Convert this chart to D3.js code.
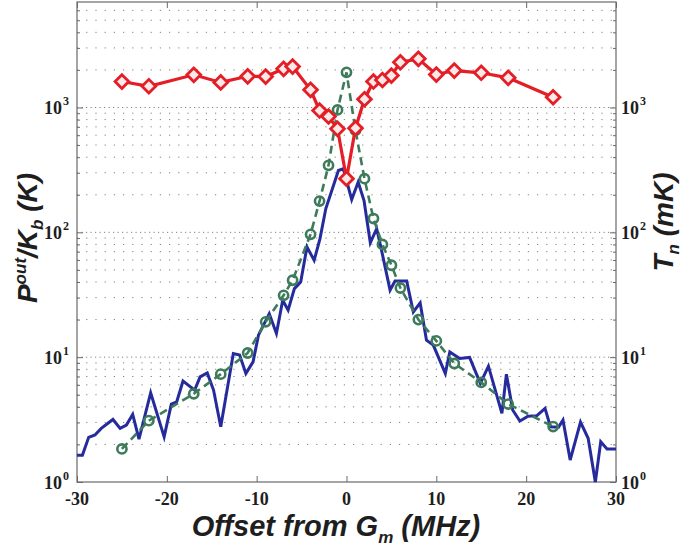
<!DOCTYPE html>
<html>
<head>
<meta charset="utf-8">
<script src="https://cdn.jsdelivr.net/npm/d3@7"></script>
<style>
  body { margin: 0; background: #fff; }
  svg { display: block; }
</style>
</head>
<body>
<div id="chart"></div>
<script>
// --- data ---
// measured spectrum (blue): offset in MHz, power in K
const specOffset = [-30.0, -29.4, -28.7, -28.0, -27.3, -26.0, -25.2, -24.5, -23.8, -23.1,
  -21.8, -20.3, -19.5, -18.9, -18.2, -16.9, -16.3, -15.5, -14.8, -14.0,
  -12.6, -11.9, -11.2, -10.4, -9.8, -8.6, -7.8, -7.1, -6.5, -5.8,
  -5.1, -4.4, -3.6, -2.95, -2.3, -0.9, -0.35, 0.58, 1.3, 1.95,
  2.65, 3.36, 3.9, 4.85, 5.4, 6.7, 7.44, 8.2, 8.9, 9.66,
  11.0, 11.5, 12.6, 13.7, 14.9, 15.8, 17.3, 17.8, 18.5, 19.3,
  20.2, 21.2, 22.1, 22.7, 23.6, 24.1, 24.9, 26.05, 26.9, 27.7,
  28.3, 29.0, 30.0];
const specPower = [1.64, 1.64, 2.28, 2.38, 2.69, 3.17, 2.69, 2.86, 3.48, 2.21,
  5.18, 2.30, 4.21, 4.39, 6.43, 5.45, 6.96, 7.48, 5.45, 2.77,
  10.7, 10.4, 7.41, 9.17, 15.0, 22.3, 15.5, 28.6, 23.8, 35.4,
  40.0, 76.3, 59.7, 89.0, 155, 313, 323, 183, 253, 180,
  82.4, 107, 71.8, 34.4, 40.8, 40.8, 23.0, 27.2, 13.7, 12.5,
  7.41, 11.0, 9.77, 9.95, 6.16, 8.47, 3.55, 7.31, 3.77, 3.08,
  3.37, 3.40, 3.89, 2.77, 2.75, 3.13, 1.50, 3.02, 2.24, 1.0,
  2.10, 1.84, 1.84];

// offsets shared by the noise temperature and the model
const offsets = [-25, -22, -17, -14, -11, -9, -7, -6, -4, -3, -2, -1, 0,
  1, 2, 3, 4, 5, 6, 8, 10, 12, 15, 18, 23];
// noise temperature T_n (red, mK)
const noiseTemp = [1614, 1480, 1827, 1588, 1778, 1770, 2040, 2128, 1386, 946, 847, 675, 269,
  683, 1165, 1615, 1661, 1803, 2303, 2453, 1836, 1977, 1897, 1729, 1208];
// model power (green dashed, K)
const modelPower = [1.84, 3.1, 5.09, 7.31, 10.8, 19.2, 31.3, 41.3, 96.4, 178, 344, 956, 1912,
  655, 269, 129, 80, 54.5, 35.8, 20, 13.5, 8.9, 6.28, 4.21, 2.78];

const xTicks = [-30, -20, -10, 0, 10, 20, 30];
const yTicks = [1, 10, 100, 1000];

// --- layout ---
const width = 685, height = 549;
const margin = { top: 2, right: 69, bottom: 67, left: 77 };
const innerWidth = width - margin.left - margin.right;
const innerHeight = height - margin.top - margin.bottom;

const colors = {
  spec: "#252b9c",
  temp: "#e41e26",
  model: "#3d7b5b",
  axis: "#6a6a6a",
  grid: "#808080",
  text: "#1e1e1e"
};
const tickFont = "'Liberation Serif', serif";
const labelFont = "'Liberation Sans', sans-serif";

const svg = d3.select("#chart").append("svg")
  .attr("width", width).attr("height", height);
const g = svg.append("g").attr("transform", `translate(${margin.left},${margin.top})`);

const x = d3.scaleLinear().domain([-30, 30]).range([0, innerWidth]);
const y = d3.scaleLog().domain([1, 7000]).range([innerHeight, 0]);

// minor grid values for the log axis
const minorVals = [];
for (let e = 0; e < 4; e++) {
  for (let k = 2; k <= 9; k++) {
    const v = k * Math.pow(10, e);
    if (v < 7000) minorVals.push(v);
  }
}

// --- gridlines (horizontal only, dotted) ---
g.append("g").attr("class", "grid-minor")
  .selectAll("line").data(minorVals).join("line")
  .attr("x1", 0).attr("x2", innerWidth)
  .attr("y1", d => y(d)).attr("y2", d => y(d))
  .attr("stroke", colors.grid).attr("stroke-width", 1)
  .attr("stroke-dasharray", "1.2,8");

g.append("g").attr("class", "grid-major")
  .selectAll("line").data(yTicks.slice(1)).join("line")
  .attr("x1", 0).attr("x2", innerWidth)
  .attr("y1", d => y(d)).attr("y2", d => y(d))
  .attr("stroke", colors.grid).attr("stroke-width", 1)
  .attr("stroke-dasharray", "1.2,3.3");

// --- axes: tick marks only (inward), labels drawn at the end ---
function ticksOnly(sel) {
  sel.select(".domain").remove();
  sel.selectAll("line").attr("stroke", colors.axis);
  sel.selectAll("text").remove();
}

g.append("g")
  .attr("transform", `translate(0,${innerHeight})`)
  .call(d3.axisBottom(x).tickValues(xTicks).tickSize(-6))
  .call(ticksOnly);
g.append("g")
  .call(d3.axisTop(x).tickValues(xTicks).tickSize(-6))
  .call(ticksOnly);
g.append("g")
  .call(d3.axisLeft(y).tickValues(yTicks).tickSize(-6))
  .call(ticksOnly);
g.append("g")
  .call(d3.axisLeft(y).tickValues(minorVals).tickSize(-3))
  .call(ticksOnly);
g.append("g")
  .attr("transform", `translate(${innerWidth},0)`)
  .call(d3.axisRight(y).tickValues(yTicks).tickSize(-6))
  .call(ticksOnly);
g.append("g")
  .attr("transform", `translate(${innerWidth},0)`)
  .call(d3.axisRight(y).tickValues(minorVals).tickSize(-3))
  .call(ticksOnly);

// box
g.append("rect")
  .attr("width", innerWidth).attr("height", innerHeight)
  .attr("fill", "none").attr("stroke", colors.axis).attr("stroke-width", 1.2);

// --- series ---
const plot = g.append("g");

const specLine = d3.line()
  .x((d, i) => x(specOffset[i]))
  .y(d => y(d));

plot.append("path")
  .datum(specPower)
  .attr("fill", "none")
  .attr("stroke", colors.spec)
  .attr("stroke-width", 3)
  .attr("stroke-linejoin", "miter")
  .attr("d", specLine);

const ptLine = d3.line()
  .x((d, i) => x(offsets[i]))
  .y(d => y(d));

// model (green dashed with circles)
plot.append("path")
  .datum(modelPower)
  .attr("fill", "none")
  .attr("stroke", colors.model)
  .attr("stroke-width", 2.6)
  .attr("stroke-dasharray", "8,5")
  .attr("d", ptLine);

plot.append("g")
  .selectAll("circle").data(modelPower).join("circle")
  .attr("cx", (d, i) => x(offsets[i]))
  .attr("cy", d => y(d))
  .attr("r", 4.6)
  .attr("fill", "none")
  .attr("stroke", colors.model)
  .attr("stroke-width", 2.6);

// noise temperature (red with diamonds)
plot.append("path")
  .datum(noiseTemp)
  .attr("fill", "none")
  .attr("stroke", colors.temp)
  .attr("stroke-width", 3.2)
  .attr("d", ptLine);

const diamond = d3.symbol().type(d3.symbolDiamond2).size(120);
plot.append("g")
  .selectAll("path").data(noiseTemp).join("path")
  .attr("transform", (d, i) => `translate(${x(offsets[i])},${y(d)})`)
  .attr("d", diamond)
  .attr("fill", "#fde8e8")
  .attr("stroke", colors.temp)
  .attr("stroke-width", 2.8);

// --- tick labels (page coordinates) ---
const px = d => margin.left + x(d);
const py = d => margin.top + y(d);

const tickText = svg.append("g")
  .attr("font-family", tickFont)
  .attr("font-weight", "bold")
  .attr("fill", colors.text);

tickText.selectAll("text.xt").data(xTicks).join("text")
  .attr("class", "xt")
  .attr("x", d => px(d))
  .attr("y", margin.top + innerHeight + 23)
  .attr("text-anchor", "middle")
  .attr("font-size", 18)
  .text(d => String(d));

// 10^k labels: base and exponent as two texts, on both sides
const sides = [
  { name: "left", baseX: margin.left - 15, expX: margin.left - 14, anchor: "end" },
  { name: "right", baseX: margin.left + innerWidth + 5, expX: margin.left + innerWidth + 24, anchor: "start" }
];
sides.forEach(s => {
  tickText.selectAll(`text.base-${s.name}`).data(yTicks).join("text")
    .attr("class", `base-${s.name}`)
    .attr("x", s.baseX)
    .attr("y", d => py(d) + 7)
    .attr("text-anchor", s.anchor)
    .attr("font-size", 18)
    .text("10");
  tickText.selectAll(`text.exp-${s.name}`).data(yTicks).join("text")
    .attr("class", `exp-${s.name}`)
    .attr("x", s.expX)
    .attr("y", d => py(d) - 2)
    .attr("text-anchor", "start")
    .attr("font-size", 12)
    .text(d => Math.round(Math.log10(d)));
});

// --- axis labels ---
function label(tr, fontSize) {
  return svg.append("text")
    .attr("transform", tr)
    .attr("text-anchor", "middle")
    .attr("fill", colors.text)
    .attr("font-family", labelFont)
    .attr("font-weight", 700)
    .attr("font-style", "italic")
    .attr("font-size", fontSize);
}

const xl = label("translate(336,536)", 29);
xl.append("tspan").text("Offset from G");
xl.append("tspan").attr("dy", 7).attr("font-size", 17).text("m");
xl.append("tspan").attr("dy", -7).text(" (MHz)");

const yl = label("translate(37,238) rotate(-90)", 28);
yl.append("tspan").text("P");
yl.append("tspan").attr("dy", -11).attr("font-size", 17).text("out");
yl.append("tspan").attr("dy", 11).text("/K");
yl.append("tspan").attr("dy", 6).attr("font-size", 17).text("b");
yl.append("tspan").attr("dy", -6).text(" (K)");

const yr = label("translate(673,222) rotate(-90)", 28);
yr.append("tspan").text("T");
yr.append("tspan").attr("dy", 6).attr("font-size", 17).text("n");
yr.append("tspan").attr("dy", -6).text(" (mK)");
</script>
</body>
</html>
